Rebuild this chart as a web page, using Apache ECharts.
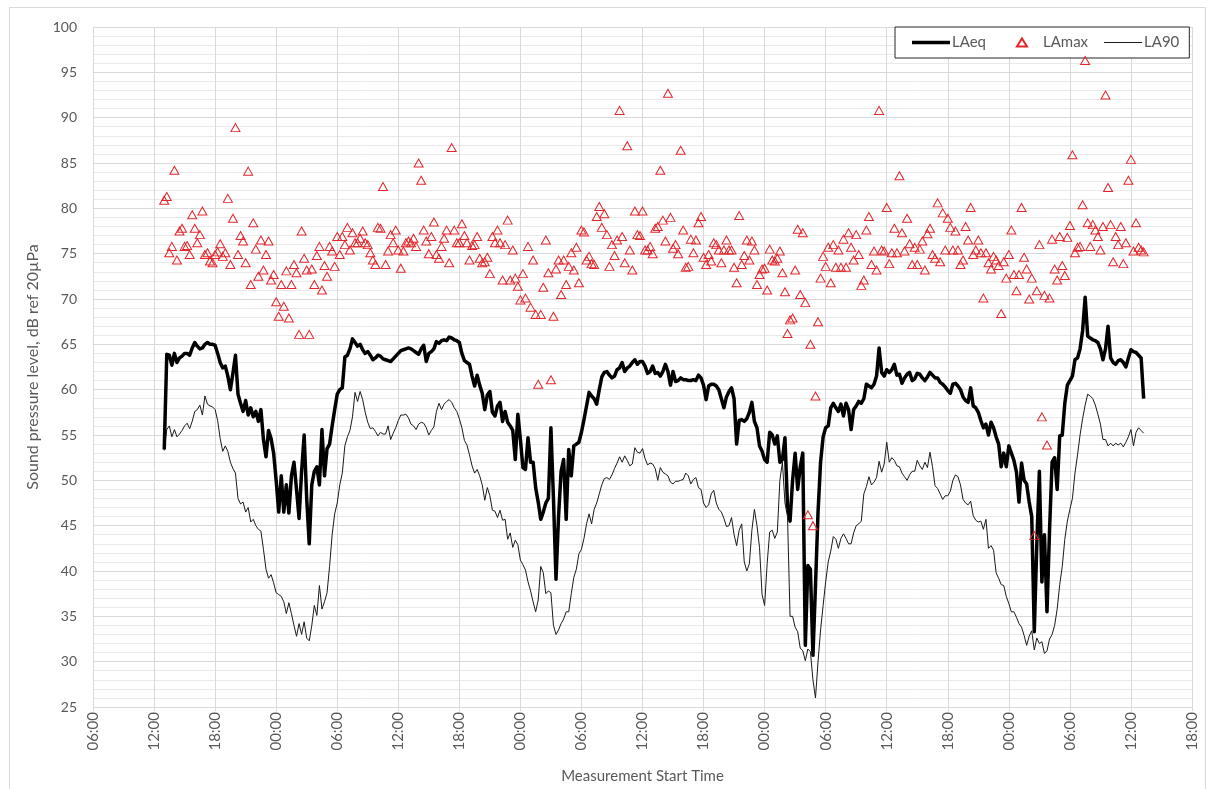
<!DOCTYPE html>
<html>
<head>
<meta charset="utf-8">
<script src="https://cdn.jsdelivr.net/npm/echarts@6/dist/echarts.min.js"></script>
<style>
html,body{margin:0;padding:0;background:#fff;}
#chart{width:1214px;height:789px;}
</style>
</head>
<body>
<div id="chart"></div>
<script>
// x-axis tick labels (every 6 hours, starting 06:00 on day 1)
const tickLabels = ['06:00','12:00','18:00','00:00','06:00','12:00','18:00','00:00','06:00','12:00','18:00','00:00','06:00','12:00','18:00','00:00','06:00','12:00','18:00'];
// first measurement start: 13:00 day 1 = 7 h after the axis origin; 15-minute intervals
const startHour = 7;
const stepHours = 0.25;

const laeq = [
53.4,63.9,63.8,62.7,64.0,63.0,63.5,63.7,64.0,64.0,
63.8,64.6,65.2,64.8,64.5,64.6,65.0,65.2,65.0,65.0,
64.9,64.0,63.0,62.4,62.6,61.5,60.0,61.8,63.8,59.5,
58.5,57.6,58.8,57.2,58.0,57.0,57.6,56.5,57.8,54.5,
52.6,55.5,54.6,53.0,50.0,46.5,50.5,46.5,49.5,46.4,
50.5,52.0,49.0,45.8,51.0,55.0,48.0,43.0,49.5,51.0,
51.5,49.5,55.6,50.5,53.5,54.0,56.0,57.8,59.5,60.0,
60.2,63.6,63.8,64.5,65.6,65.2,64.8,65.0,64.4,64.0,
64.2,63.8,63.3,63.5,63.8,63.7,63.4,63.3,63.2,63.1,
63.4,63.7,64.0,64.3,64.4,64.5,64.6,64.5,64.3,64.1,
63.9,64.5,64.9,63.1,64.0,64.2,64.5,65.3,65.1,65.4,
65.5,65.4,65.8,65.7,65.5,65.4,65.2,64.0,63.2,63.0,
62.8,61.5,60.4,61.6,60.5,59.6,57.8,59.4,59.8,57.5,
57.1,58.2,58.6,56.5,57.6,56.4,56.0,55.5,52.3,57.3,
54.5,51.4,51.2,54.7,52.0,52.0,49.2,47.6,45.7,46.5,
47.5,48.0,55.8,48.0,39.1,46.0,51.0,52.3,45.7,53.4,
50.5,53.8,54.0,54.2,55.3,56.7,58.2,59.7,59.3,59.0,
58.4,60.0,61.4,61.9,62.0,61.6,61.3,61.5,62.2,62.4,
63.0,62.0,62.4,62.6,63.0,63.3,62.8,63.1,63.1,62.6,
61.8,62.0,62.6,61.8,61.9,61.5,62.0,62.8,62.0,60.5,
62.0,60.9,61.0,61.3,61.1,61.1,61.0,61.0,61.1,61.0,
61.6,61.3,60.5,58.9,60.4,60.6,60.6,60.4,60.0,59.0,
58.0,59.2,59.8,60.2,59.0,54.0,56.6,56.7,56.5,56.8,
57.5,58.6,56.5,55.8,53.8,53.2,52.3,52.0,55.3,55.0,
54.0,54.9,52.0,52.3,54.7,47.2,45.5,50.0,53.0,49.0,
51.5,53.0,31.8,40.6,40.2,30.7,38.4,46.5,52.0,54.8,
55.8,56.0,58.0,58.5,58.0,57.6,58.4,57.1,58.5,57.8,
55.6,57.8,58.2,58.7,58.5,59.0,60.6,60.4,60.2,60.6,
61.5,64.6,61.9,61.5,62.2,61.9,62.2,62.8,61.6,61.7,
60.7,61.3,61.7,61.9,61.0,61.2,61.8,61.7,61.3,61.0,
61.4,61.9,61.6,61.3,61.3,60.8,60.6,60.3,59.9,59.6,
60.6,60.7,60.4,60.0,59.2,58.8,58.6,60.2,58.2,58.0,
57.5,56.6,55.8,56.2,55.0,56.4,55.8,54.8,54.0,51.5,
53.0,51.5,53.8,53.0,52.2,50.9,47.6,51.9,50.0,49.6,
47.6,46.0,33.3,43.0,51.0,38.8,44.0,35.5,44.5,52.0,
52.5,49.0,54.9,55.0,58.5,60.5,61.0,61.5,63.3,63.5,
64.5,66.5,70.2,65.9,65.7,65.5,65.4,65.2,64.5,63.3,
64.5,67.0,63.5,63.0,62.8,63.2,63.3,63.0,62.5,63.5,
64.4,64.2,64.1,63.8,63.5,59.0
];

const lamax = [
80.9,81.3,75.1,75.8,84.2,74.3,77.5,77.8,75.8,75.9,
74.9,79.3,77.8,76.2,77.1,79.7,74.9,75.1,74.2,74.0,
74.9,75.2,76.1,74.7,75.1,81.1,73.8,78.9,88.9,74.9,
77.0,76.4,74.0,84.1,71.6,78.4,75.5,72.5,76.5,73.2,
74.9,76.4,72.1,72.7,69.7,68.1,71.6,69.2,73.1,67.9,
71.6,73.8,72.9,66.1,77.5,74.5,73.2,66.1,73.3,71.6,
74.8,75.8,71.0,73.7,72.5,75.8,75.3,73.6,76.9,74.9,
76.9,76.0,77.9,75.4,77.3,76.2,76.2,76.7,77.5,76.2,
76.0,75.1,74.3,73.8,77.9,77.8,82.4,73.8,75.3,77.1,
76.2,77.6,75.4,73.4,75.3,76.2,76.4,76.2,76.7,75.8,
85.0,83.1,77.6,76.4,75.0,76.9,78.5,74.9,74.5,75.8,
76.7,77.6,74.0,86.7,77.6,76.2,76.2,78.3,77.0,76.2,
74.3,75.9,76.0,76.9,74.5,74.0,74.1,74.6,72.8,76.9,
76.2,77.6,76.2,72.1,76.0,78.7,72.1,75.4,72.3,71.4,
69.9,72.8,70.1,75.8,69.1,74.3,68.3,60.6,68.3,71.3,
76.5,72.9,61.1,68.1,73.3,74.3,70.5,74.3,71.6,73.6,
75.1,73.2,75.7,71.8,77.6,77.4,74.3,74.7,73.9,73.8,
79.1,80.2,77.9,79.4,77.1,73.6,76.0,74.8,76.5,90.8,
76.9,74.0,86.9,75.4,73.2,79.7,77.1,77.0,79.7,75.4,
75.4,75.8,75.0,77.8,78.0,84.2,78.7,76.4,92.7,79.0,
75.6,76.0,75.0,86.4,77.6,73.5,73.6,76.6,75.1,76.5,
78.4,79.1,74.6,73.8,74.9,74.2,76.2,76.0,75.4,74.0,
75.4,76.5,75.4,75.4,73.5,71.8,79.2,73.8,74.8,76.5,
74.3,76.4,75.4,71.6,72.7,73.3,73.4,71.0,75.5,74.3,
74.2,74.5,75.3,72.9,70.8,66.2,67.7,67.9,73.2,77.7,
70.5,77.3,69.6,46.2,65.0,45.0,59.3,67.5,72.3,74.7,
73.6,75.7,71.8,76.0,73.5,75.4,73.5,76.6,73.5,77.3,
75.7,74.3,77.1,74.9,71.5,72.1,77.6,79.1,73.8,75.3,
73.2,90.8,75.4,75.3,80.1,73.9,75.1,77.8,75.1,83.6,
77.3,75.3,78.9,76.1,73.8,75.7,73.8,75.5,76.4,73.2,
77.2,77.8,74.9,74.5,80.6,74.1,79.5,75.4,78.9,77.9,
75.4,77.5,75.4,73.8,74.3,78.0,76.5,80.1,74.9,75.4,
76.5,75.1,70.1,75.1,74.0,73.3,74.7,74.3,73.7,68.4,
74.1,72.3,74.9,77.6,72.7,70.9,72.7,80.1,74.6,73.3,
70.0,72.3,43.9,70.9,76.0,57.0,70.4,53.9,70.1,76.6,
73.3,72.1,76.9,73.7,72.6,76.8,78.1,85.9,75.1,75.7,
75.8,80.4,96.3,78.4,75.8,78.2,77.6,76.9,75.4,78.0,
92.5,82.3,78.2,74.1,76.9,76.0,78.0,73.9,76.2,83.1,
85.4,75.3,78.4,75.7,75.4,75.2
];

const la90 = [
53.3,55.6,56.0,54.8,55.6,54.8,55.1,55.5,56.0,56.3,
55.7,56.5,57.6,57.8,58.3,57.2,59.3,58.4,58.2,58.1,
57.8,56.6,54.6,53.2,53.8,53.2,52.0,51.3,50.8,48.0,
47.4,47.6,46.5,47.0,45.4,45.7,45.0,44.6,44.4,42.4,
40.2,39.2,39.6,38.7,37.6,37.4,37.2,36.6,35.3,36.5,
35.3,34.0,32.8,34.2,33.0,34.4,32.6,32.3,34.0,36.2,
35.1,38.4,35.8,36.6,37.6,40.5,44.0,46.3,47.5,49.5,
50.8,53.8,54.8,55.5,57.0,59.7,58.7,59.8,58.9,57.5,
56.4,55.7,55.8,55.4,54.9,55.3,55.1,55.1,56.0,54.5,
55.2,55.8,56.6,57.2,57.2,57.3,56.9,56.2,56.0,55.6,
56.2,56.4,56.3,55.8,55.0,55.5,55.9,57.6,58.5,57.8,
58.4,58.7,58.9,58.6,58.0,57.6,56.8,55.8,54.4,53.9,
52.8,51.6,50.8,51.2,50.5,49.5,47.8,49.2,48.3,46.7,
46.6,45.9,46.7,45.6,45.7,43.5,44.2,42.6,43.4,42.9,
41.2,40.7,40.1,38.8,37.8,36.6,35.5,36.8,40.5,39.8,
37.5,37.8,37.6,34.0,33.0,33.5,34.2,34.7,35.5,35.5,
37.5,39.3,40.2,41.9,42.4,43.6,45.2,46.3,45.2,46.8,
47.5,48.5,49.5,50.2,50.3,50.1,50.6,51.3,51.9,52.6,
52.0,52.7,52.2,51.6,51.8,53.6,53.1,53.0,53.5,52.4,
51.7,51.9,51.8,51.3,50.0,51.4,50.9,50.7,50.5,49.8,
49.6,49.9,49.9,50.0,50.1,50.8,50.5,49.6,50.1,50.3,
49.2,49.0,47.5,47.0,47.3,48.5,48.9,47.5,46.8,46.5,
45.8,44.9,45.0,45.9,44.0,42.8,44.5,45.2,41.0,40.0,
40.8,44.5,46.8,45.0,42.6,37.4,36.2,40.8,44.3,44.5,
43.6,44.3,50.0,52.0,47.5,46.0,35.0,35.0,33.8,33.3,
31.5,31.2,30.1,31.4,31.1,28.0,26.0,30.0,33.5,36.2,
38.8,41.0,42.2,43.8,43.5,42.5,43.6,44.1,43.6,43.0,
43.0,44.2,45.0,45.2,45.5,48.5,49.3,50.4,49.5,49.8,
50.3,52.1,50.9,51.8,54.2,52.0,52.5,52.2,51.6,51.5,
50.8,50.4,50.0,50.6,51.0,51.0,52.2,51.6,51.2,52.0,
51.4,53.1,51.5,49.4,49.1,48.5,47.9,48.3,48.3,48.8,
50.0,50.6,50.4,49.5,47.9,47.5,47.3,47.7,46.1,45.6,
45.4,45.5,44.6,45.7,42.5,42.8,42.3,39.8,39.2,38.5,
38.4,37.2,36.4,35.5,35.5,34.9,34.2,33.8,32.9,31.8,
32.8,33.4,31.3,32.6,32.0,32.2,30.9,31.2,32.5,33.0,
34.0,35.8,38.5,40.5,43.5,45.5,46.8,48.0,50.8,52.8,
55.0,56.8,58.3,59.5,59.3,59.0,58.3,57.3,56.2,54.5,
54.5,53.8,54.1,53.8,54.1,53.9,54.1,53.7,54.2,54.8,
55.6,53.8,55.3,55.8,55.5,55.2
];

const toPairs = arr => arr.map((v, i) => [startHour + i * stepHours, v]);

const FONT = 'Lato, "Open Sans", sans-serif';
const TXT = '#595959';

const chart = echarts.init(document.getElementById('chart'), null, {renderer: 'canvas'});
chart.setOption({
  animation: false,
  backgroundColor: '#fff',
  textStyle: {fontFamily: FONT},
  graphic: [{
    type: 'rect', silent: true, z: -10,
    shape: {x: 9.5, y: 7.5, width: 1196, height: 790},
    style: {fill: 'none', stroke: '#d9d9d9', lineWidth: 1}
  }],
  grid: {left: 93, right: 22, top: 27, bottom: 81, containLabel: false},
  legend: {
    data: [
      {name: 'LAeq', icon: 'path://M0,0H38V3.5H0Z'},
      {name: 'LAmax', icon: 'path://M0,0M38,9M19,0.5L24,8.5L14,8.5Z'},
      {name: 'LA90', icon: 'path://M0,0H38V1H0Z'}
    ],
    left: 895, top: 27,
    padding: [8, 10, 8, 17],
    itemGap: 16,
    itemWidth: 38, itemHeight: 9,
    borderColor: '#262626', borderWidth: 1,
    backgroundColor: '#fff',
    textStyle: {fontFamily: FONT, fontSize: 15, color: TXT, padding: [0, 0, 0, -3]}
  },
  xAxis: {
    type: 'value', min: 0, max: 108, interval: 6,
    name: 'Measurement Start Time', nameLocation: 'middle', nameGap: 62,
    nameTextStyle: {fontFamily: FONT, fontSize: 15, color: TXT},
    axisLine: {show: true, lineStyle: {color: '#d9d9d9'}},
    axisTick: {show: true, length: 4, lineStyle: {color: '#d9d9d9'}},
    splitLine: {show: true, lineStyle: {color: '#d9d9d9', width: 1}},
    axisLabel: {
      rotate: 90, margin: 5, fontFamily: FONT, fontSize: 15, color: TXT,
      formatter: v => tickLabels[Math.round(v / 6)] || ''
    }
  },
  yAxis: {
    type: 'value', min: 25, max: 100, interval: 5,
    name: 'Sound pressure level, dB ref 20µPa', nameLocation: 'middle', nameGap: 52,
    nameTextStyle: {fontFamily: FONT, fontSize: 16, color: TXT},
    axisLine: {show: false},
    axisTick: {show: false},
    axisLabel: {fontFamily: FONT, fontSize: 14, color: TXT, margin: 16},
    splitLine: {show: true, lineStyle: {color: '#d9d9d9', width: 1}},
    minorTick: {show: false, splitNumber: 5},
    minorSplitLine: {show: true, lineStyle: {color: '#e9e9e9', width: 1}}
  },
  series: [
    {
      name: 'LAeq', type: 'line', data: toPairs(laeq),
      symbol: 'none', z: 3,
      lineStyle: {color: '#000', width: 3.5, join: 'round'},
      itemStyle: {color: '#000'}
    },
    {
      name: 'LAmax', type: 'scatter', data: toPairs(lamax),
      symbol: 'triangle', symbolSize: [9, 8], z: 5,
      itemStyle: {color: 'rgba(255,255,255,0)', borderColor: '#e3262b', borderWidth: 1, opacity: 1}
    },
    {
      name: 'LA90', type: 'line', data: toPairs(la90),
      symbol: 'none', z: 2,
      lineStyle: {color: '#1a1a1a', width: 1},
      itemStyle: {color: '#1a1a1a'}
    }
  ]
});
</script>
</body>
</html>
